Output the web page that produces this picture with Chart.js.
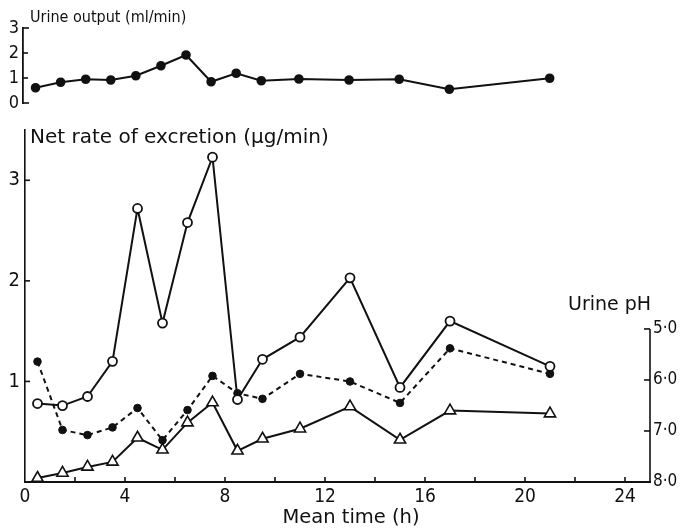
<!DOCTYPE html>
<html>
<head>
<meta charset="utf-8">
<script src="https://cdn.jsdelivr.net/npm/chart.js@4/dist/chart.umd.min.js"></script>
<style>
  html, body { margin: 0; padding: 0; background: #fff; }
  #wrap { position: relative; width: 684px; height: 528px; background: #fff; }
  canvas { position: absolute; left: 0; top: 0; }
</style>
</head>
<body>
<div id="wrap">
  <canvas id="main" width="684" height="528"></canvas>
  <canvas id="top" width="684" height="528"></canvas>
</div>
<script>
// ---- data ----
const times = [0.5, 1.5, 2.5, 3.5, 4.5, 5.5, 6.5, 7.5, 8.5, 9.5, 11, 13, 15, 17, 21];
const urineOutput = [0.61, 0.83, 0.95, 0.92, 1.09, 1.49, 1.92, 0.85, 1.19, 0.89, 0.96, 0.92, 0.95, 0.55, 0.99];
const excretionOpenCircles = [0.78, 0.76, 0.85, 1.20, 2.72, 1.58, 2.58, 3.23, 0.82, 1.22, 1.44, 2.03, 0.94, 1.60, 1.15];
const excretionTriangles = [0.04, 0.09, 0.15, 0.20, 0.44, 0.32, 0.59, 0.79, 0.31, 0.43, 0.53, 0.75, 0.42, 0.71, 0.68];
const urinePH = [5.64, 6.98, 7.08, 6.93, 6.55, 7.18, 6.59, 5.92, 6.26, 6.37, 5.88, 6.03, 6.45, 5.38, 5.88];

const xTickValues = [0, 2, 4, 6, 8, 10, 12, 14, 16, 18, 20, 22, 24];
const xLabelValues = [0, 4, 8, 12, 16, 20, 24];
const rateTicks = [0, 1, 2, 3];
const rateLabels = ['', '1', '2', '3'];
const phTicks = [5, 6, 7, 8];
const phLabels = ['5·0', '6·0', '7·0', '8·0'];
const outputTicks = [0, 1, 2, 3];
const outputLabels = ['0', '1', '2', '3'];

const titleOutput = 'Urine output (ml/min)';
const titleRate = 'Net rate of excretion (µg/min)';
const titlePH = 'Urine pH';
const titleX = 'Mean time (h)';

const INK = '#111';
const FONT = '"DejaVu Sans", "Liberation Sans", sans-serif';
const FONT_C = '"DejaVu Sans Condensed", "Liberation Sans Narrow", "DejaVu Sans", sans-serif';
Chart.defaults.font.family = FONT_C;
Chart.defaults.color = INK;

const toXY = (ys) => times.map((t, i) => ({ x: t, y: ys[i] }));

// ---- main chart ----
const mainPlugin = {
  id: 'mainDecor',
  afterDraw(chart) {
    const ctx = chart.ctx;
    const xs = chart.scales.x, yl = chart.scales.y, yr = chart.scales.ph;
    ctx.save();
    ctx.strokeStyle = INK;
    ctx.lineWidth = 1.6;
    xTickValues.forEach(v => {
      if (v === 0) return;
      const px = xs.getPixelForValue(v);
      ctx.beginPath(); ctx.moveTo(px, xs.top); ctx.lineTo(px, xs.top - 5); ctx.stroke();
    });
    rateTicks.forEach(v => {
      if (v === 0) return;
      const py = yl.getPixelForValue(v);
      ctx.beginPath(); ctx.moveTo(yl.right, py); ctx.lineTo(yl.right + 5, py); ctx.stroke();
    });
    const pTop = yr.getPixelForValue(5), pBot = yr.getPixelForValue(8);
    ctx.beginPath(); ctx.moveTo(yr.left, pTop); ctx.lineTo(yr.left, pBot); ctx.stroke();
    phTicks.forEach(v => {
      if (v === 8) return;
      const py = yr.getPixelForValue(v);
      ctx.beginPath(); ctx.moveTo(yr.left, py); ctx.lineTo(yr.left - 6, py); ctx.stroke();
    });
    ctx.fillStyle = INK;
    ctx.textBaseline = 'middle';
    ctx.textAlign = 'left';
    ctx.font = '20px ' + FONT;
    ctx.fillText(titleRate, 30, 138);
    ctx.font = '19px ' + FONT;
    ctx.fillText(titlePH, 568, 305);
    ctx.textAlign = 'center';
    ctx.font = '19.5px ' + FONT;
    ctx.fillText(titleX, 351, 518);
    ctx.restore();
  }
};

new Chart(document.getElementById('main'), {
  type: 'line',
  data: {
    datasets: [
      {
        label: 'Excretion (open circles)',
        data: toXY(excretionOpenCircles),
        yAxisID: 'y',
        borderColor: INK, borderWidth: 2,
        pointStyle: 'circle', pointRadius: 4.5,
        pointBackgroundColor: '#fff', pointBorderColor: INK, pointBorderWidth: 1.8,
        tension: 0, fill: false, order: 1
      },
      {
        label: 'Urine pH',
        data: toXY(urinePH),
        yAxisID: 'ph',
        borderColor: INK, borderWidth: 2, borderDash: [5, 4],
        pointStyle: 'circle', pointRadius: 3.8,
        pointBackgroundColor: INK, pointBorderColor: INK, pointBorderWidth: 1,
        tension: 0, fill: false, order: 2
      },
      {
        label: 'Excretion (triangles)',
        data: toXY(excretionTriangles),
        yAxisID: 'y',
        borderColor: INK, borderWidth: 2,
        pointStyle: 'triangle', pointRadius: 6.5,
        pointBackgroundColor: '#fff', pointBorderColor: INK, pointBorderWidth: 1.6,
        tension: 0, fill: false, order: 0
      }
    ]
  },
  options: {
    responsive: false,
    animation: false,
    devicePixelRatio: 1,
    layout: { padding: { top: 130, left: 0, right: 0, bottom: 0 } },
    plugins: { legend: { display: false }, tooltip: { enabled: false } },
    scales: {
      x: {
        type: 'linear', min: 0, max: 25,
        afterBuildTicks: (s) => { s.ticks = xTickValues.map(v => ({ value: v })); },
        afterFit: (s) => { s.height = 46; },
        grid: { drawOnChartArea: false, drawTicks: false },
        border: { display: true, color: INK, width: 2 },
        ticks: {
          autoSkip: false, maxRotation: 0, padding: 4,
          font: { size: 19 }, color: INK,
          callback: (v) => xLabelValues.includes(v) ? String(v) : ''
        }
      },
      y: {
        type: 'linear', position: 'left', min: 0, max: 3.5,
        afterBuildTicks: (s) => { s.ticks = rateTicks.map(v => ({ value: v })); },
        afterFit: (s) => { s.width = 25; },
        grid: { drawOnChartArea: false, drawTicks: false },
        border: { display: true, color: INK, width: 1.6 },
        ticks: {
          autoSkip: false, padding: 5, font: { size: 20 }, color: INK,
          callback: (v) => rateLabels[rateTicks.indexOf(v)] ?? ''
        }
      },
      ph: {
        type: 'linear', position: 'right', reverse: true, min: 1.1, max: 8,
        afterBuildTicks: (s) => { s.ticks = phTicks.map(v => ({ value: v })); },
        afterFit: (s) => { s.width = 34; },
        grid: { drawOnChartArea: false, drawTicks: false },
        border: { display: false },
        ticks: {
          autoSkip: false, padding: 3, font: { size: 17 }, color: INK,
          callback: (v) => phLabels[phTicks.indexOf(v)] ?? ''
        }
      }
    }
  },
  plugins: [mainPlugin]
});

// ---- top chart: urine output ----
const topPlugin = {
  id: 'topDecor',
  afterDraw(chart) {
    const ctx = chart.ctx;
    const ys = chart.scales.y;
    ctx.save();
    ctx.strokeStyle = INK;
    ctx.lineWidth = 1.6;
    outputTicks.forEach(v => {
      const py = ys.getPixelForValue(v);
      ctx.beginPath(); ctx.moveTo(ys.right, py); ctx.lineTo(ys.right + (v === 0 || v === 3 ? 6 : 5), py); ctx.stroke();
    });
    ctx.fillStyle = INK;
    ctx.textBaseline = 'middle';
    ctx.textAlign = 'left';
    ctx.font = '16px ' + FONT_C;
    ctx.fillText(titleOutput, 30, 18);
    ctx.restore();
  }
};

new Chart(document.getElementById('top'), {
  type: 'line',
  data: {
    datasets: [{
      label: 'Urine output',
      data: toXY(urineOutput),
      borderColor: INK, borderWidth: 2,
      pointStyle: 'circle', pointRadius: 3.8,
      pointBackgroundColor: INK, pointBorderColor: INK,
      tension: 0, fill: false
    }]
  },
  options: {
    responsive: false,
    animation: false,
    devicePixelRatio: 1,
    layout: { padding: { top: 28, left: 0, right: 34, bottom: 425 } },
    plugins: { legend: { display: false }, tooltip: { enabled: false } },
    scales: {
      x: { type: 'linear', min: 0, max: 25, display: false },
      y: {
        type: 'linear', min: 0, max: 3,
        afterBuildTicks: (s) => { s.ticks = outputTicks.map(v => ({ value: v })); },
        afterFit: (s) => { s.width = 23; },
        grid: { drawOnChartArea: false, drawTicks: false },
        border: { display: true, color: INK, width: 1.8 },
        ticks: {
          autoSkip: false, padding: 4, font: { size: 18 }, color: INK,
          callback: (v) => outputLabels[outputTicks.indexOf(v)] ?? ''
        }
      }
    }
  },
  plugins: [topPlugin]
});
</script>
</body>
</html>
